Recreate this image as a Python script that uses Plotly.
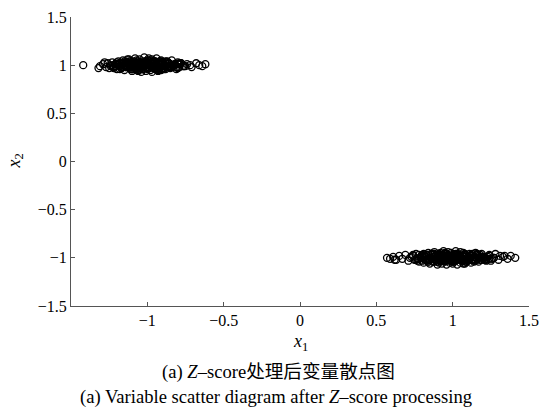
import plotly.graph_objects as go

# Cluster A (around (-1, 1))
ax = [
    -1.42, -1.31, -1.29, -1.27, -1.26, -1.25, -1.24, -1.23, -1.22, -1.21,
    -1.20, -1.19, -1.18, -1.18, -1.17, -1.16, -1.15, -1.15, -1.14, -1.13,
    -1.13, -1.12, -1.11, -1.11, -1.10, -1.10, -1.09, -1.08, -1.08, -1.07,
    -1.07, -1.06, -1.06, -1.05, -1.05, -1.04, -1.04, -1.03, -1.03, -1.02,
    -1.02, -1.01, -1.01, -1.00, -1.00, -0.99, -0.99, -0.98, -0.98, -0.97,
    -0.97, -0.96, -0.96, -0.95, -0.95, -0.94, -0.94, -0.93, -0.93, -0.92,
    -0.91, -0.91, -0.90, -0.89, -0.89, -0.88, -0.87, -0.86, -0.85, -0.84,
    -0.83, -0.82, -0.81, -0.80, -0.79, -0.78, -0.76, -0.74, -0.71, -0.68,
    -0.66, -0.64, -0.62, -1.32, -1.28, -1.12, -1.06, -0.99, -0.93, -0.87,
    -1.21, -1.17, -1.14, -1.12, -1.09, -1.07, -1.05, -1.03, -1.01, -0.99,
    -0.97, -0.95, -0.93, -0.91, -0.89, -0.86, -0.84, -0.82, -0.79, -0.77,
    -1.19, -1.16, -1.13, -1.10, -1.08, -1.06, -1.04, -1.02, -1.00, -0.98,
    -0.96, -0.94, -0.92, -0.90, -0.88, -0.85, -0.83, -0.80, -0.75, -0.72,
    -1.24, -1.20, -1.15, -1.11, -1.07, -1.03, -0.98, -0.94, -0.90, -0.86,
    -1.22, -1.20, -1.18, -1.16, -1.14, -1.12, -1.10, -1.08, -1.06, -1.04,
    -1.02, -1.00, -0.98, -0.96, -0.94, -0.92, -0.90, -0.88, -0.86, -0.84,
    -0.82, -0.80, -0.78, -0.76, -1.21, -1.17, -1.13, -1.09, -1.05, -1.01,
    -0.97, -0.93, -0.89, -0.85, -0.81, -1.19, -1.15, -1.11, -1.07, -1.03,
    -0.99, -0.95, -0.91, -0.87, -0.83, -0.79, -1.16, -1.12, -1.08, -1.04,
    -1.00, -0.96, -0.92, -0.88, -1.14, -1.10, -1.06, -1.02, -0.98, -0.94,
    -0.90, -1.13, -1.09, -1.05, -1.01, -0.97, -0.93, -1.07, -1.03, -0.99,
    -0.95, -1.11, -1.04, -1.00, -0.96, -0.91, -1.18, -0.85, -0.80, -1.23,
]
ay = [
    1.00, 0.99, 1.01, 0.98, 1.02, 0.97, 1.00, 1.03, 0.98, 1.01,
    0.96, 1.04, 0.99, 1.02, 0.97, 1.05, 1.00, 0.95, 1.03, 0.98,
    1.06, 1.01, 0.96, 1.04, 0.99, 0.94, 1.02, 1.07, 0.97, 1.00,
    1.05, 0.95, 1.03, 0.98, 1.06, 0.93, 1.01, 1.04, 0.96, 1.08,
    0.99, 1.02, 0.94, 1.05, 0.97, 1.07, 1.00, 0.95, 1.03, 0.93,
    1.06, 0.98, 1.01, 0.96, 1.04, 0.99, 1.07, 0.94, 1.02, 0.97,
    1.05, 0.95, 1.03, 1.00, 0.96, 1.04, 0.98, 1.02, 0.97, 1.05,
    0.99, 1.01, 0.96, 1.03, 0.98, 1.02, 0.99, 1.01, 0.98, 1.02,
    1.00, 0.99, 1.01, 0.97, 1.03, 1.06, 0.94, 1.05, 0.95, 1.04,
    0.99, 1.02, 0.98, 1.01, 1.03, 0.97, 1.00, 1.02, 0.98, 1.01,
    0.99, 1.03, 0.97, 1.01, 0.99, 1.02, 0.98, 1.00, 1.02, 0.99,
    1.01, 0.98, 1.00, 1.02, 0.97, 1.01, 0.99, 1.03, 0.98, 1.00,
    1.02, 0.99, 1.01, 0.97, 1.03, 0.98, 1.00, 1.01, 0.99, 1.00,
    0.99, 1.01, 0.99, 1.00, 0.98, 1.02, 1.00, 0.98, 1.01, 0.99,
    0.97, 1.03, 0.96, 1.02, 0.98, 1.04, 0.96, 1.01, 1.04, 0.97,
    1.03, 0.96, 1.02, 1.04, 0.97, 1.01, 1.03, 0.96, 1.02, 0.98,
    1.01, 0.97, 1.02, 0.99, 1.01, 0.97, 1.03, 0.96, 1.02, 1.04,
    0.98, 1.03, 0.97, 1.01, 0.98, 1.00, 1.04, 0.98, 0.96, 1.02,
    0.97, 1.04, 0.96, 1.03, 0.99, 1.01, 0.98, 1.01, 1.03, 0.96,
    1.02, 0.97, 1.04, 0.99, 1.03, 0.96, 1.02, 0.99, 1.04, 0.96,
    1.02, 0.99, 1.04, 0.97, 1.04, 0.98, 1.00, 0.96, 1.01, 0.97,
    1.03, 1.00, 0.98, 1.03, 0.99, 1.04, 1.02, 0.99, 1.01, 0.99,
]

# Cluster B (around (1, -1))
bx = [
    0.57, 0.59, 0.61, 0.63, 0.65, 0.67, 0.69, 0.71, 0.73, 0.75,
    0.76, 0.78, 0.79, 0.80, 0.81, 0.82, 0.83, 0.84, 0.85, 0.86,
    0.87, 0.88, 0.88, 0.89, 0.90, 0.90, 0.91, 0.92, 0.92, 0.93,
    0.93, 0.94, 0.94, 0.95, 0.95, 0.96, 0.96, 0.97, 0.97, 0.98,
    0.98, 0.99, 0.99, 1.00, 1.00, 1.01, 1.01, 1.02, 1.02, 1.03,
    1.03, 1.04, 1.04, 1.05, 1.05, 1.06, 1.06, 1.07, 1.08, 1.08,
    1.09, 1.10, 1.10, 1.11, 1.12, 1.13, 1.14, 1.15, 1.16, 1.17,
    1.18, 1.19, 1.20, 1.22, 1.24, 1.26, 1.28, 1.30, 1.33, 1.36,
    1.38, 1.41, 0.62, 0.74, 0.84, 0.95, 1.07, 1.16, 1.25, 1.34,
    0.77, 0.81, 0.85, 0.88, 0.91, 0.93, 0.95, 0.97, 0.99, 1.01,
    1.03, 1.05, 1.07, 1.09, 1.11, 1.13, 1.16, 1.19, 1.22, 1.27,
    0.79, 0.83, 0.86, 0.89, 0.92, 0.94, 0.96, 0.98, 1.00, 1.02,
    1.04, 1.06, 1.08, 1.10, 1.12, 1.14, 1.17, 1.21, 1.24, 1.31,
    0.72, 0.80, 0.87, 0.91, 0.96, 1.00, 1.04, 1.09, 1.14, 1.20,
    0.74, 0.76, 0.78, 0.80, 0.82, 0.84, 0.86, 0.88, 0.90, 0.92,
    0.94, 0.96, 0.98, 1.00, 1.02, 1.04, 1.06, 1.08, 1.10, 1.12,
    1.14, 1.16, 1.18, 1.20, 1.22, 1.24, 1.27, 0.77, 0.81, 0.85,
    0.89, 0.93, 0.97, 1.01, 1.05, 1.09, 1.13, 1.17, 1.21, 0.79,
    0.83, 0.87, 0.91, 0.95, 0.99, 1.03, 1.07, 1.11, 1.15, 1.19,
    0.82, 0.86, 0.90, 0.94, 0.98, 1.02, 1.06, 1.10, 1.14, 0.88,
    0.92, 0.96, 1.00, 1.04, 1.08, 1.12, 0.91, 0.95, 0.99, 1.03,
    1.07, 0.93, 0.97, 1.01, 1.05, 0.87, 1.13, 1.18, 0.78, 1.23,
]
by = [
    -1.00, -1.01, -0.99, -1.02, -0.98, -1.01, -0.97, -1.03, -0.99, -1.02,
    -0.96, -1.04, -1.00, -0.97, -1.05, -0.98, -1.03, -0.95, -1.06, -1.01,
    -0.96, -1.04, -0.94, -1.02, -1.07, -0.97, -1.05, -0.99, -0.95, -1.03,
    -1.06, -0.93, -1.01, -1.04, -0.96, -1.07, -0.98, -1.02, -0.94, -1.05,
    -1.00, -0.95, -1.03, -0.97, -1.06, -0.99, -1.04, -0.93, -1.01, -1.07,
    -0.96, -1.02, -0.98, -1.05, -0.94, -1.03, -1.00, -0.95, -1.06, -0.97,
    -1.04, -0.99, -1.02, -0.96, -1.05, -0.98, -1.03, -0.95, -1.01, -1.04,
    -0.97, -1.02, -0.99, -1.03, -0.98, -1.01, -0.96, -1.02, -0.99, -1.01,
    -0.98, -1.00, -1.02, -0.97, -1.04, -0.95, -1.06, -0.96, -1.03, -0.98,
    -1.01, -0.98, -1.02, -0.99, -1.01, -0.97, -1.03, -1.00, -0.98, -1.02,
    -0.99, -1.01, -0.97, -1.02, -1.00, -0.98, -1.01, -0.99, -1.02, -1.00,
    -0.99, -1.02, -1.00, -0.97, -1.03, -0.99, -1.01, -0.98, -1.02, -1.00,
    -0.98, -1.01, -0.99, -1.03, -0.97, -1.02, -1.00, -0.99, -1.01, -0.98,
    -1.00, -0.99, -1.01, -1.00, -1.02, -0.98, -1.00, -1.02, -0.99, -1.01,
    -0.98, -1.02, -0.97, -1.03, -0.99, -1.04, -0.96, -1.01, -1.04, -0.97,
    -1.03, -0.96, -1.02, -1.04, -0.97, -1.01, -1.03, -0.96, -1.02, -0.98,
    -1.01, -0.97, -1.02, -0.99, -1.01, -0.97, -1.00, -1.03, -0.96, -1.02,
    -0.98, -1.03, -0.97, -1.01, -0.98, -1.04, -0.96, -0.98, -1.02, -0.99,
    -0.97, -1.04, -0.96, -1.03, -0.99, -1.01, -0.98, -1.01, -1.03, -0.96,
    -1.02, -0.97, -1.04, -0.99, -1.03, -0.96, -1.02, -0.99, -1.04, -0.96,
    -1.02, -0.99, -1.04, -0.97, -1.04, -0.98, -1.00, -0.96, -1.01, -0.97,
    -1.03, -1.00, -0.98, -1.03, -0.99, -1.04, -1.02, -0.99, -1.01, -0.99,
]

xticks = [-1, -0.5, 0, 0.5, 1, 1.5]
xticklabels = ["\u22121", "\u22120.5", "0", "0.5", "1", "1.5"]
yticks = [-1.5, -1, -0.5, 0, 0.5, 1, 1.5]
yticklabels = ["\u22121.5", "\u22121", "\u22120.5", "0", "0.5", "1", "1.5"]

serif = "Liberation Serif, Times New Roman, Noto Sans CJK SC, serif"
marker = dict(symbol="circle-open", size=7, color="black", line=dict(width=1.3, color="black"))

fig = go.Figure()
fig.add_trace(go.Scatter(x=ax, y=ay, mode="markers", marker=marker, showlegend=False))
fig.add_trace(go.Scatter(x=bx, y=by, mode="markers", marker=marker, showlegend=False))

axis_common = dict(
    showgrid=False, zeroline=False, showline=True, linecolor="#555555", linewidth=1,
    ticks="inside", ticklen=4, tickcolor="#555555", mirror=False, automargin=False,
    tickfont=dict(family=serif, size=16, color="black"),
)
fig.update_xaxes(range=[-1.5, 1.5], tickvals=xticks, ticktext=xticklabels, **axis_common)
fig.update_yaxes(range=[-1.5, 1.5], tickvals=yticks, ticktext=yticklabels, **axis_common)

fig.update_layout(
    width=542, height=410,
    margin=dict(l=71, r=13, t=17, b=104),
    plot_bgcolor="white", paper_bgcolor="white",
    font=dict(family=serif, color="black"),
    annotations=[
        dict(text="<i>x</i><sub>1</sub>", xref="paper", yref="paper", x=0.5, y=-0.128,
             xanchor="center", yanchor="middle", showarrow=False,
             font=dict(family=serif, size=18)),
        dict(text="<i>x</i><sub>2</sub>", xref="paper", yref="paper", x=-0.122, y=0.5,
             xanchor="center", yanchor="middle", showarrow=False, textangle=-90,
             font=dict(family=serif, size=18)),
        dict(text="(a) <i>Z</i>\u2013score处理后变量散点图", xref="paper", yref="paper",
             x=0.452, y=-0.228, xanchor="center", yanchor="middle", showarrow=False,
             font=dict(family=serif, size=18.6)),
        dict(text="(a) Variable scatter diagram after <i>Z</i>\u2013score processing",
             xref="paper", yref="paper", x=0.447, y=-0.314, xanchor="center",
             yanchor="middle", showarrow=False, font=dict(family=serif, size=18.6)),
    ],
)

fig.write_html("out.html")
